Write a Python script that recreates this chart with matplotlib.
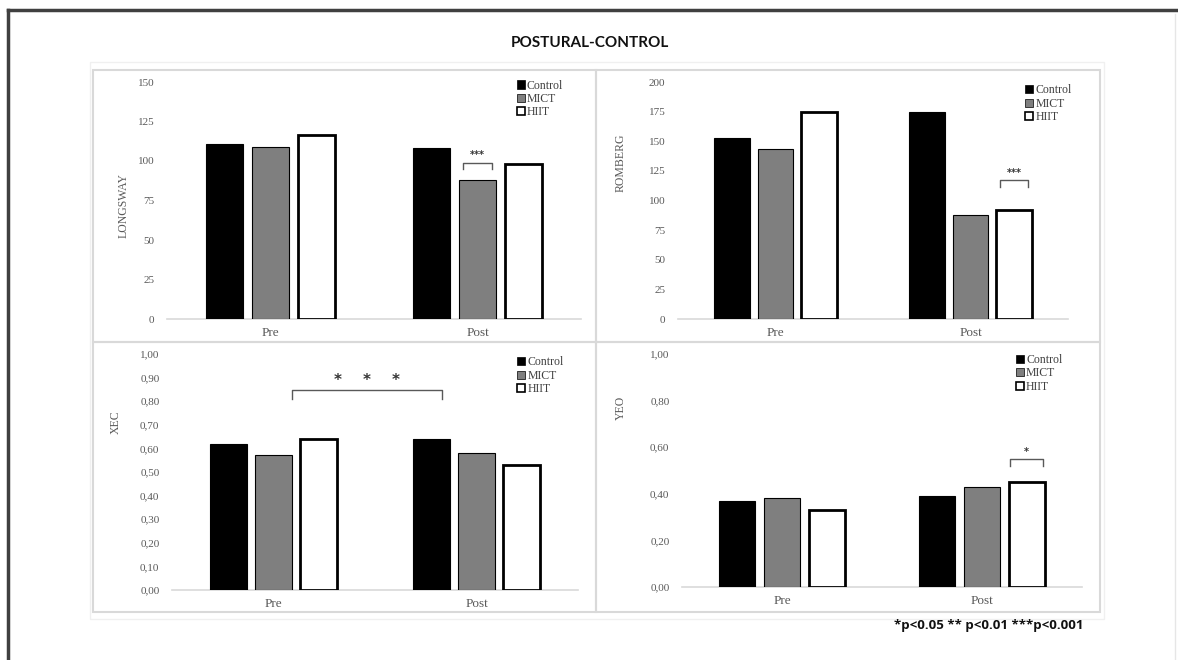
import matplotlib.pyplot as plt
import numpy as np
from matplotlib.patches import Patch, Rectangle
from matplotlib.lines import Line2D

# data
times = ["Pre", "Post"]
groups = ["Control", "MICT", "HIIT"]

longsway = {"Control": [111, 108], "MICT": [109, 88], "HIIT": [116.5, 98]}
romberg = {"Control": [153, 175], "MICT": [143.5, 88], "HIIT": [175, 92]}
xec = {"Control": [0.62, 0.64], "MICT": [0.57, 0.58], "HIIT": [0.64, 0.53]}
yeo = {"Control": [0.37, 0.39], "MICT": [0.38, 0.43], "HIIT": [0.33, 0.45]}

longsway_ticks = [0, 25, 50, 75, 100, 125, 150]
romberg_ticks = [0, 25, 50, 75, 100, 125, 150, 175, 200]
xec_ticks = [0, 0.1, 0.2, 0.3, 0.4, 0.5, 0.6, 0.7, 0.8, 0.9, 1.0]
yeo_ticks = [0, 0.2, 0.4, 0.6, 0.8, 1.0]

# brackets: (time, group, edge) -> (time, group, edge), leg bottom, top, label
longsway_sig = [((1, "MICT", -0.8), (1, "MICT", 0.8), 95, 99, "***")]
romberg_sig = [((1, "HIIT", -0.8), (1, "HIIT", 0.8), 111.5, 117, "***")]
xec_sig = [((0, "MICT", 1.0), (1, "Control", 0.6), 0.81, 0.847, "*    *    *")]
yeo_sig = [((1, "HIIT", -0.9), (1, "HIIT", 0.9), 0.52, 0.548, "*")]

colors = {"Control": "black", "MICT": "#7f7f7f", "HIIT": "white"}
edge_w = {"Control": 0.8, "MICT": 0.8, "HIIT": 2.0}
offsets = {"Control": -0.223, "MICT": 0.0, "HIIT": 0.223}
bar_w = 0.18

serif = "Liberation Serif"
gray_txt = "#595959"

W, H = 1178, 660
fig = plt.figure(figsize=(W / 100, H / 100), dpi=100)


def px_axes(x0, x1, ytop, ybot):
    return fig.add_axes([x0 / W, 1 - ybot / H, (x1 - x0) / W, (ybot - ytop) / H])


def fmt(v, comma):
    if comma:
        return ("%.2f" % v).replace(".", ",")
    return "%d" % v


def panel(ax, data, ticks, comma, ylabel, lab_xy, leg_xy, sigs):
    x = np.arange(len(times))
    for g in groups:
        ax.bar(x + offsets[g], data[g], width=bar_w, color=colors[g],
               edgecolor="black", linewidth=edge_w[g], zorder=3)
    ax.set_xlim(-0.5, 1.5)
    ax.set_ylim(ticks[0], ticks[-1])
    ax.set_yticks(ticks)
    ax.set_yticklabels([fmt(t, comma) for t in ticks], fontsize=8,
                       family=serif, color=gray_txt)
    ax.set_xticks(x)
    ax.set_xticklabels(times, fontsize=9.5, family=serif, color=gray_txt)
    ax.tick_params(axis="y", length=0, pad=9)
    ax.tick_params(axis="x", length=0, pad=6)
    for s in ["top", "right", "left"]:
        ax.spines[s].set_visible(False)
    ax.spines["bottom"].set_color("#d9d9d9")
    ax.spines["bottom"].set_linewidth(1.2)
    ax.set_ylabel(ylabel, fontsize=8.5, family=serif, color=gray_txt)
    ax.yaxis.set_label_coords(*lab_xy)
    ax.patch.set_alpha(0)

    handles = [Patch(facecolor=colors[g], edgecolor="black",
                     linewidth=1.2 if g == "HIIT" else 0.5) for g in groups]
    leg = ax.legend(handles, groups, loc="upper left", bbox_to_anchor=leg_xy,
                    frameon=False, prop={"family": serif, "size": 8.5},
                    handlelength=0.7, handleheight=0.7, handletextpad=0.15,
                    labelspacing=0.12, borderpad=0, borderaxespad=0)
    for t in leg.get_texts():
        t.set_color("#404040")

    for a, b, ylo, yhi, lab in sigs:
        xa = x[a[0]] + offsets[a[1]] + a[2] * bar_w / 2
        xb = x[b[0]] + offsets[b[1]] + b[2] * bar_w / 2
        ax.plot([xa, xa, xb, xb], [ylo, yhi, yhi, ylo], color="#595959",
                lw=1.0, zorder=4)
        span = ticks[-1] - ticks[0]
        big = len(lab) > 3
        ax.text((xa + xb) / 2, yhi + span * 0.01, lab, ha="center", va="bottom",
                fontsize=11 if big else 7, color="#333333", fontweight="bold")


ax1 = px_axes(167, 581, 82, 319)
panel(ax1, longsway, longsway_ticks, False, "LONGSWAY", (-0.091, 0.48),
      (0.845, 1.01), longsway_sig)

ax2 = px_axes(678, 1068, 82, 319)
panel(ax2, romberg, romberg_ticks, False, "ROMBERG", (-0.131, 0.66),
      (0.89, 0.99), romberg_sig)

ax3 = px_axes(172, 578, 354, 590)
panel(ax3, xec, xec_ticks, True, "XEC", (-0.125, 0.71),
      (0.85, 0.99), xec_sig)

ax4 = px_axes(682, 1082, 354, 587)
panel(ax4, yeo, yeo_ticks, True, "YEO", (-0.138, 0.77),
      (0.835, 1.0), yeo_sig)


# panel grid and frames
def frect(x0, y0, x1, y1, **kw):
    fig.patches.append(Rectangle((x0 / W, 1 - y1 / H), (x1 - x0) / W,
                                 (y1 - y0) / H, transform=fig.transFigure,
                                 fill=False, **kw))


frect(90, 62, 1104, 619, edgecolor="#f0f0f0", linewidth=1.0)
for (x0, x1) in [(93, 596), (596, 1100)]:
    for (y0, y1) in [(70, 342), (342, 612)]:
        frect(x0, y0, x1, y1, edgecolor="#d9d9d9", linewidth=1.5)

fig.add_artist(Line2D([8 / W, 1.0], [1 - 10 / H, 1 - 10 / H],
                      transform=fig.transFigure, color="#404040", lw=2.5))
fig.add_artist(Line2D([8 / W, 8 / W], [0, 1 - 10 / H],
                      transform=fig.transFigure, color="#404040", lw=2.5))
fig.add_artist(Line2D([1175 / W, 1175 / W], [0, 1 - 14 / H],
                      transform=fig.transFigure, color="#e6e6e6", lw=1.0))

fig.text(590 / W, 1 - 43 / H, "POSTURAL-CONTROL", ha="center", va="center",
         fontsize=11, fontweight="bold", family="Lato", color="#111111")
fig.text(1083 / W, 1 - 625 / H, "*p<0.05 ** p<0.01 ***p<0.001", ha="right",
         va="center", fontsize=9.5, fontweight="bold", family="Open Sans",
         color="#111111")

fig.savefig("out.png", dpi=100, facecolor="white")
